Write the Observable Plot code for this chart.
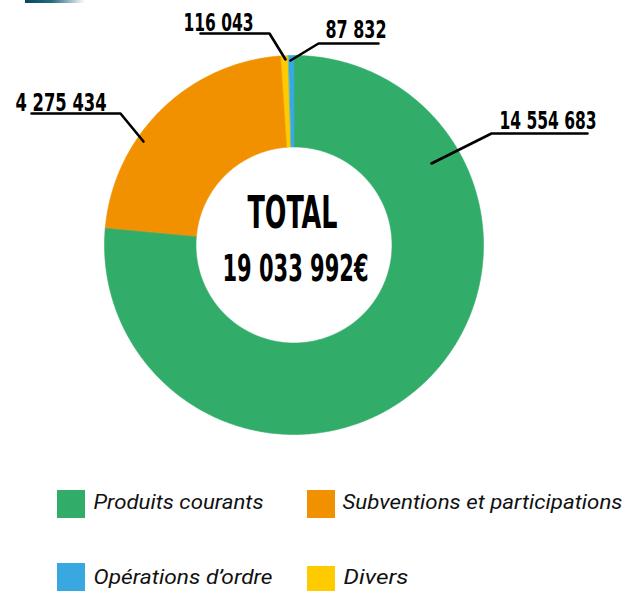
<!DOCTYPE html>
<html><head><meta charset="utf-8">
<script src="https://cdn.jsdelivr.net/npm/d3@7"></script>
<script src="https://cdn.jsdelivr.net/npm/@observablehq/plot@0.6"></script>
<style>
body{margin:0;background:#fff;}
#wrap{position:relative;width:639px;height:591px;overflow:hidden;}
#corner{position:absolute;left:25px;top:0;width:60px;height:3px;background:linear-gradient(90deg,#0a4660,#256a82 45%,rgba(255,255,255,0));}
</style></head><body><div id="wrap"></div>
<script>
// ---- data ----
const categories = ["Produits courants", "Subventions et participations", "Divers", "Opérations d’ordre"];
const values = [14554683, 4275434, 116043, 87832];
const colors = ["#31ad69", "#f29100", "#fecb00", "#3aa8e0"];
const legendOrder = ["Produits courants", "Subventions et participations", "Opérations d’ordre", "Divers"];
const totalTitle = "TOTAL";
const currency = "€";

// ---- layout (pixels) ----
const W = 639, H = 591;
const CX = 293.5, CY = 244.5, RO = 189.5, RI = 98;
const labelLayout = [
  {tx: 499, ty: 128, w: 97, line: [[587,133],[491,133],[431,163]]},
  {tx: 15,  ty: 110, w: 91, line: [[31,113],[120,113],[143,141]]},
  {tx: 183, ty: 30,  w: 70, line: [[200,33],[269,33],[285,59]]},
  {tx: 325, ty: 37,  w: 61, line: [[378,43],[318,43],[290,60]]}
];
const legendLayout = [
  {sx: 57,  sy: 490, s: 28, tx: 93,  ty: 508, w: 170},
  {sx: 307, sy: 490, s: 28, tx: 342, ty: 508, w: 280},
  {sx: 57,  sy: 563, s: 28, tx: 93,  ty: 583, w: 179},
  {sx: 307, sy: 566, s: 28, tx: 343, ty: 583, w: 65}
];

const fmt = d3.formatLocale({thousands: " ", grouping: [3], decimal: ","}).format(",d");
const total = d3.sum(values);

// slices via d3.pie
const pie = d3.pie().sort(null).startAngle(0).endAngle(2 * Math.PI)(values);
const slicePts = [];
pie.forEach((p, i) => {
  const n = Math.max(4, Math.ceil((p.endAngle - p.startAngle) / (Math.PI / 360)));
  for (let k = 0; k <= n; k++) {
    const a = p.startAngle + (p.endAngle - p.startAngle) * k / n;
    slicePts.push({name: categories[i], x: CX + RO * Math.sin(a), y: CY - RO * Math.cos(a)});
  }
  for (let k = n; k >= 0; k--) {
    const a = p.startAngle + (p.endAngle - p.startAngle) * k / n;
    slicePts.push({name: categories[i], x: CX + RI * Math.sin(a), y: CY - RI * Math.cos(a)});
  }
});

const labelRows = categories.map((c, i) => ({name: c, label: fmt(values[i]), ...labelLayout[i]}));
const leaderRows = labelRows.flatMap(d => d.line.map(([x, y]) => ({name: d.name, x, y})));
const legendRows = legendOrder.map((c, i) => ({name: c, ...legendLayout[i]}));
const centerRows = [
  {text: totalTitle, x: 292, y: 227, size: 44, w: 90},
  {text: fmt(total) + currency, x: 295, y: 280, size: 37, w: 146}
];

const condensed = "'Liberation Sans Narrow', 'DejaVu Sans Condensed', 'Roboto Condensed', sans-serif";

const chart = Plot.plot({
  width: W, height: H, margin: 0,
  style: {background: "transparent", overflow: "visible"},
  x: {domain: [0, W], range: [0, W], axis: null},
  y: {domain: [0, H], range: [0, H], axis: null},
  color: {domain: categories, range: colors},
  marks: [
    Plot.line(slicePts, {x: "x", y: "y", z: "name", fill: "name", stroke: "name", strokeWidth: 0.6, curve: "linear-closed"}),
    Plot.line(leaderRows, {x: "x", y: "y", z: "name", stroke: "#000", strokeWidth: 2.6, strokeLinejoin: "miter"}),
    Plot.text(labelRows, {x: "tx", y: "ty", text: "label", textAnchor: "start", lineAnchor: "bottom", fontSize: 24, fontWeight: "bold", fontFamily: condensed, fill: "#000", className: "vlabel"}),
    Plot.text(centerRows, {x: "x", y: "y", text: "text", textAnchor: "middle", lineAnchor: "bottom", fontSize: d => d.size, fontWeight: "bold", fontFamily: condensed, fill: "#000", className: "ctext"}),
    Plot.rect(legendRows, {x1: "sx", x2: d => d.sx + d.s, y1: "sy", y2: d => d.sy + d.s, fill: "name"}),
    Plot.text(legendRows, {x: "tx", y: "ty", text: "name", textAnchor: "start", lineAnchor: "bottom", fontSize: 21, fontStyle: "italic", fontFamily: "Roboto, 'Open Sans', sans-serif", fill: "#111", className: "leg"})
  ]
});

function fit(cls, rows) {
  chart.querySelectorAll(`g.${cls} text`).forEach((t, i) => {
    t.setAttribute("textLength", rows[i].w);
    t.setAttribute("lengthAdjust", "spacingAndGlyphs");
  });
}
fit("vlabel", labelRows);
fit("ctext", centerRows);
fit("leg", legendRows);

const wrap = document.getElementById("wrap");
wrap.appendChild(chart);
const corner = document.createElement("div");
corner.id = "corner";
wrap.appendChild(corner);
</script></body></html>
